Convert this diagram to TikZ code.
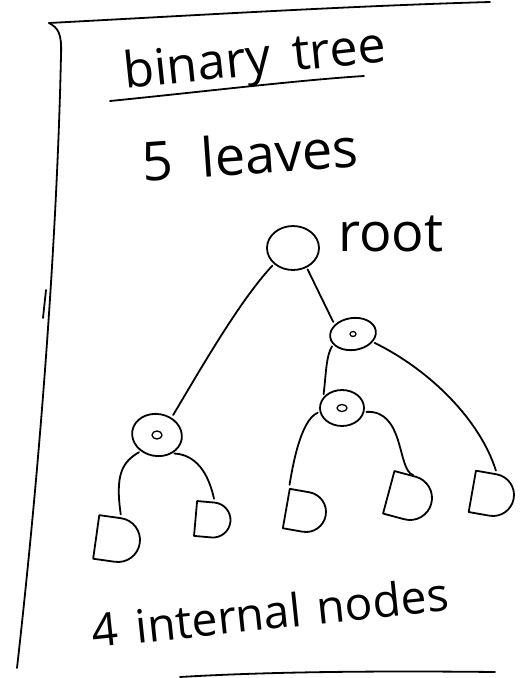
\documentclass[tikz,border=0pt]{standalone}
\usepackage{fontspec}
\setmainfont{Open Sans}
\usetikzlibrary{shapes.geometric,shapes.misc}
\begin{document}
\begin{tikzpicture}[x=1pt,y=-1pt,
  ink/.style={line width=1.8pt,line cap=round,line join=round},
  hand/.style={font=\fontsize{50}{56}\selectfont,inner sep=0pt},
  rootnode/.style={ink,draw,ellipse,minimum width=52pt,minimum height=44pt,inner sep=0pt},
  innernode/.style={ink,draw,ellipse,minimum width=46pt,minimum height=34pt,inner sep=0pt},
  leafnode/.style={ink,draw,rounded rectangle,rounded rectangle left arc=none,
    minimum width=26pt,minimum height=36pt,inner sep=0pt},
  edge/.style={ink,shorten >=3pt,shorten <=2pt}]
\useasboundingbox (0,0) rectangle (522,678);

% page frame
\draw[ink] (49,23) .. controls (200,15) and (350,6) .. (490,2);
\draw[ink] (49,23) .. controls (58,28) and (62,33) .. (61,55)
  .. controls (58,200) and (45,420) .. (17,668);
\draw[ink] (46,290) -- (43,318);
\draw[ink] (180,677) .. controls (280,671) and (400,671) .. (495,672);

% headings
\node[hand,rotate=6] (title) at (255,62) {binary\hspace{22pt}tree};
\draw[ink] (110,101) .. controls (200,92) and (300,80) .. (364,76);
\node[hand,rotate=4,font=\fontsize{54}{60}\selectfont] (count) at (250,154) {5\hspace{28pt}leaves};

% tree
\node[rootnode] (root) at (293,248) {};
\node[hand,anchor=west,font=\fontsize{54}{60}\selectfont] (rootlabel) at (338,234) {root};
\node[innernode,minimum width=46pt,minimum height=32pt,rotate=8] (r) at (353,334) {};
\node[innernode,minimum width=50pt,minimum height=42pt,rotate=-10] (l) at (157,435) {};
\node[innernode,minimum width=44pt,minimum height=36pt] (rl) at (342,408) {};

\node[leafnode,rotate=-8,minimum height=44pt] (a) at (118,540) {};
\node[leafnode,rotate=-5,minimum width=28pt,minimum height=35pt] (b) at (213,520) {};
\node[leafnode,rotate=-10,minimum width=38pt,minimum height=40pt] (c) at (306,512) {};
\node[leafnode,rotate=-15,minimum width=30pt,minimum height=44pt] (d) at (410,498) {};
\node[leafnode,rotate=-10,minimum width=34pt,minimum height=42pt] (e) at (493,495) {};

% small marks inside the internal nodes
\draw[ink,line width=1.3pt] (r.center) ellipse (3pt and 2.5pt);
\draw[ink,line width=1.3pt] (l.center) ellipse (5pt and 4pt);
\draw[ink,line width=1.3pt] (rl.center) ellipse (5pt and 3.5pt);

% connectors
\draw[edge] (root.220) .. controls (240,300) and (200,370) .. (l.60);
\draw[edge] (root.-55) -- (r.145);
\draw[edge] (r.200) .. controls (326,356) and (326,375) .. (rl.150);
\draw[edge] (r.-30) .. controls (430,370) and (480,420) .. (e.north);
\draw[edge] (l.235) .. controls (122,462) and (115,475) .. (a.north);
\draw[edge] (l.-40) .. controls (200,455) and (210,480) .. (b.north);
\draw[edge] (rl.190) .. controls (300,420) and (292,470) .. (c.north west);
\draw[edge] (rl.-10) .. controls (405,410) and (397,470) .. (d.north);

% count of internal nodes
\node[hand,rotate=6,font=\fontsize{46}{52}\selectfont] (inner) at (270,612) {4\hspace{18pt}internal\hspace{16pt}nodes};
\end{tikzpicture}
\end{document}
